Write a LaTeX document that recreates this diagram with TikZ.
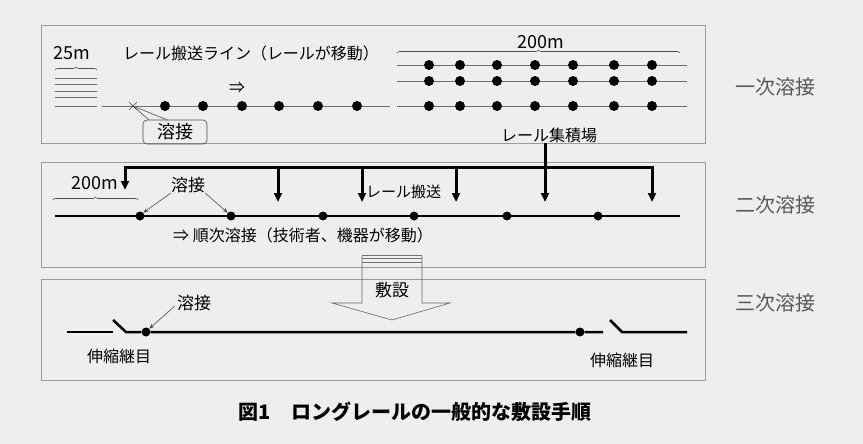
\documentclass[tikz,border=0pt]{standalone}
\usepackage{fontspec}
\setmainfont{Noto Sans CJK JP}
\usetikzlibrary{arrows.meta,decorations.pathreplacing}
\definecolor{bg}{HTML}{EEEEEE}
\definecolor{frame}{HTML}{9A9A9A}
\definecolor{rail}{HTML}{6E6E6E}
\tikzset{
  stage/.style={draw=frame, line width=0.9pt},
  thinrail/.style={draw=rail, line width=0.7pt},
  weld/.style={circle, fill=black, inner sep=0pt, minimum size=10pt},
  lbl/.style={font=\fontsize{16}{16}\selectfont, inner sep=0pt},
  num/.style={font=\fontsize{18}{18}\selectfont, inner sep=0pt},
  side/.style={font=\fontsize{20}{20}\selectfont, text=black!65, inner sep=0pt},
  span/.style={decorate, decoration={brace, amplitude=3pt}, draw=black!70, line width=0.6pt},
  feed/.style={line width=3pt, line join=miter, >={Triangle[length=9pt,width=8pt]}},
  pointer/.style={draw=black!70, line width=0.6pt, -{Stealth[length=5pt,width=4pt]}},
}
\begin{document}
\begin{tikzpicture}[x=1pt,y=-1pt]
\fill[bg] (0,0) rectangle (863,444);
\useasboundingbox (0,0) rectangle (863,444);

% first stage
\draw[stage] (41,25) rectangle (705,143);
\node[num] (len25) at (72,53) {25m};
\draw[span] (55,70) -- (97,70);
\foreach \y in {78,84,91,97} \draw[thinrail] (55,\y) -- (97,\y);
\draw[thinrail] (55,106) -- (97,106);
\draw[thinrail] (102,106) -- (390,106);
\node[lbl] (line) at (251,53) {レール搬送ライン（レールが移動）};
\node[lbl] (move1) at (237,88) {⇒};
\foreach \x [count=\i] in {165,203,242,279,318,357} \node[weld] (a\i) at (\x,106) {};
\coordinate (cut) at (133,106);
\draw[black!70, line width=0.6pt] (129,102) -- (137,110) (129,110) -- (137,102);
\node[draw=black!70, line width=0.6pt, rounded corners=4pt, minimum width=64pt, minimum height=24pt,
  font=\fontsize{18}{18}\selectfont, inner sep=0pt] (w1) at (175,132) {溶接};
\draw[black!70, line width=0.6pt] ([xshift=6pt]w1.north west) -- (cut) -- ([xshift=24pt]w1.north west);

\node[num] (len200) at (541,42) {200m};
\draw[span] (397,53) -- (680,53);
\foreach \y [count=\r] in {65,81,106} {
  \draw[thinrail] (397,\y) -- (687,\y);
  \foreach \x [count=\i] in {429,460,497,535,573,614,652} \node[weld] (b\r\i) at (\x,\y) {};
}
\node[lbl] (yard) at (549,135) {レール集積場};

% second stage
\draw[stage] (41,162) rectangle (705,267);
\coordinate (barL) at (125,167);
\coordinate (barR) at (652,167);
\coordinate (tip1) at (125,190);
\coordinate (tip6) at (652,202);
\draw[feed, <->] (tip1) -- (barL) -- (barR) -- (tip6);
\foreach \x [count=\i from 2] in {278,362,456} {
  \coordinate (d\i) at (\x,167);
  \coordinate (e\i) at (\x,202);
  \draw[feed, ->] (d\i) -- (e\i);
}
\coordinate (hub) at (545,143);
\coordinate (e5) at (545,202);
\draw[feed, ->] (hub) -- (e5);

\coordinate (r2L) at (55,216);
\coordinate (r2R) at (680,216);
\draw[line width=2pt] (r2L) -- (r2R);
\foreach \x [count=\i] in {140,231,323,414,507,598} \node[weld, minimum size=9pt] (c\i) at (\x,216) {};
\node[num] (len200b) at (95,183) {200m};
\draw[span] (53,200) -- (138,200);
\node[lbl, font=\fontsize{17}{17}\selectfont] (w2) at (188,185) {溶接};
\draw[pointer] (w2.south west) -- (c1.north east);
\draw[pointer] (w2.south east) -- (c2.north west);
\node[lbl, font=\fontsize{15}{15}\selectfont, anchor=west] (carry) at (366,192) {レール搬送};
\node[lbl, anchor=west] (seq) at (173,235) {⇒ 順次溶接（技術者、機器が移動）};

% third stage
\draw[stage] (41,279) rectangle (705,380);
\node[weld, minimum size=9pt] (j1) at (146,332) {};
\node[weld, minimum size=9pt] (j2) at (580,332) {};
\draw[line width=2.5pt] (67,332) -- (113,332);
\draw[line width=2.5pt] (113,320) -- (126,332) -- (j1) -- (j2) -- (603,332);
\draw[line width=2.5pt] (610,320) -- (622,332) -- (687,332);
\node[lbl, font=\fontsize{17}{17}\selectfont] (w3) at (194,303) {溶接};
\draw[pointer] ([xshift=-2pt,yshift=-3pt]w3.west) -- (j1.north east);
\node[lbl] (joint1) at (119,356) {伸縮継目};
\node[lbl] (joint2) at (622,360) {伸縮継目};

% laying arrow
\draw[black!60, line width=0.6pt] (362,256) -- (362,303) -- (332,303) -- (392,320) -- (450,303) -- (422,303) -- (422,256);
\foreach \y in {255,258.5,262} \draw[black!55, line width=0.6pt] (362,\y) -- (422,\y);
\node[lbl, font=\fontsize{17}{17}\selectfont] (lay) at (392,290) {敷設};

% stage names
\node[side] (s1) at (775,87) {一次溶接};
\node[side] (s2) at (775,205) {二次溶接};
\node[side] (s3) at (775,303) {三次溶接};

\node[font=\bfseries\fontsize{20}{20}\selectfont, inner sep=0pt] (cap) at (415,412) {図1　ロングレールの一般的な敷設手順};
\end{tikzpicture}
\end{document}
